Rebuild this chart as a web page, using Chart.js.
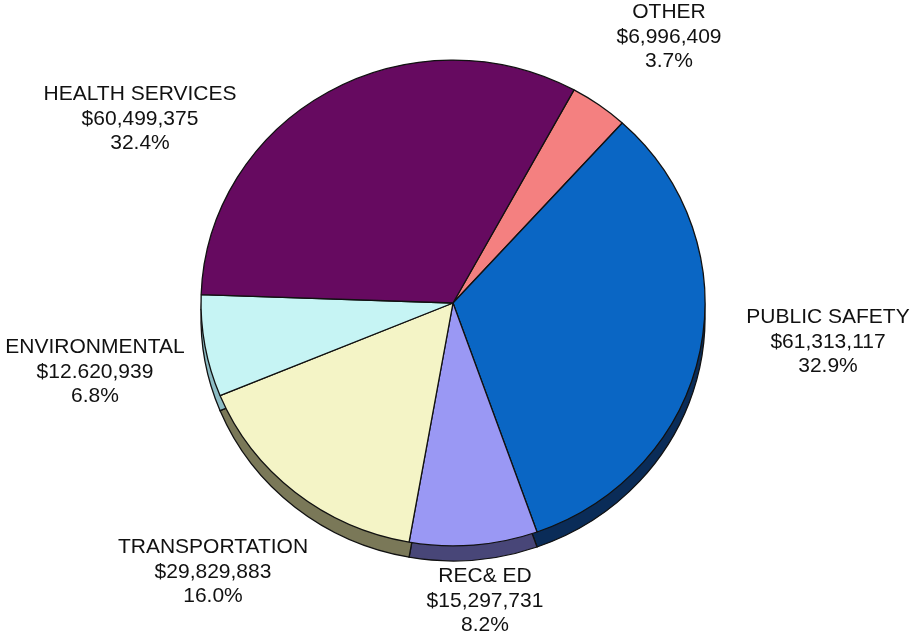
<!DOCTYPE html>
<html>
<head>
<meta charset="utf-8">
<script src="https://cdn.jsdelivr.net/npm/chart.js@4.4.1/dist/chart.umd.min.js"></script>
<style>
    body { margin: 0; background: #fff; }
    #budgetChart { display: block; }
</style>
</head>
<body>
<canvas id="budgetChart" width="911" height="640"></canvas>
<script>
// Budget by department
const categories = ['OTHER', 'PUBLIC SAFETY', 'REC& ED', 'TRANSPORTATION', 'ENVIRONMENTAL', 'HEALTH SERVICES'];
const amounts = [6996409, 61313117, 15297731, 29829883, 12620939, 60499375];
const amountLabels = ['$6,996,409', '$61,313,117', '$15,297,731', '$29,829,883', '$12.620,939', '$60,499,375'];
const percentLabels = ['3.7%', '32.9%', '8.2%', '16.0%', '6.8%', '32.4%'];

const topColors = ['#f48080', '#0a66c4', '#9a98f4', '#f4f4c6', '#c6f4f4', '#660a60'];
const sideColors = ['#8a4848', '#0a2c58', '#484678', '#7a7858', '#8cbcc4', '#3a0638'];

// label anchor offsets from the pie centre, px
const labelOffsets = [
    [216, -266], [375, 39], [32, 298], [-240, 269], [-358, 69], [-313, -184]
];

// squashes the pie slightly and draws the rim underneath it
const pieDepth = {
    id: 'pieDepth',
    beforeDatasetsDraw(chart, args, opts) {
        const ctx = chart.ctx;
        const meta = chart.getDatasetMeta(0);
        const cx = meta.data[0].x;
        const cy = meta.data[0].y;
        const d = opts.depth / opts.squash;

        ctx.save();
        ctx.translate(cx, cy);
        ctx.scale(1, opts.squash);
        ctx.translate(-cx, -cy);

        meta.data.forEach((arc, i) => {
            ctx.beginPath();
            ctx.moveTo(arc.x, arc.y + d);
            ctx.arc(arc.x, arc.y + d, arc.outerRadius, arc.startAngle, arc.endAngle);
            ctx.closePath();
            ctx.fillStyle = sideColors[i];
            ctx.fill();
            ctx.lineWidth = 1.3;
            ctx.strokeStyle = '#111';
            ctx.stroke();
        });
    },
    afterDatasetsDraw(chart) {
        chart.ctx.restore();
    }
};

const sliceLabels = {
    id: 'sliceLabels',
    afterDraw(chart) {
        const ctx = chart.ctx;
        const meta = chart.getDatasetMeta(0);
        const cx = meta.data[0].x;
        const cy = meta.data[0].y;
        ctx.save();
        ctx.font = '21px "Liberation Sans", Arial, sans-serif';
        ctx.fillStyle = '#111';
        ctx.textAlign = 'center';
        ctx.textBaseline = 'middle';
        categories.forEach((name, i) => {
            const x = cx + labelOffsets[i][0];
            const y = cy + labelOffsets[i][1];
            ctx.fillText(name, x, y - 24.5);
            ctx.fillText(amountLabels[i], x, y);
            ctx.fillText(percentLabels[i], x, y + 24.5);
        });
        ctx.restore();
    }
};

new Chart(document.getElementById('budgetChart'), {
    type: 'pie',
    data: {
        labels: categories,
        datasets: [{
            data: amounts,
            backgroundColor: topColors,
            borderColor: '#111',
            borderWidth: 1.3,
            hoverOffset: 0
        }]
    },
    options: {
        responsive: false,
        animation: false,
        rotation: 28.7,
        radius: 252,
        events: [],
        layout: {
            padding: { left: 201, right: 206, top: 51, bottom: 85 }
        },
        plugins: {
            legend: { display: false },
            tooltip: { enabled: false },
            pieDepth: { depth: 15, squash: 0.964 }
        }
    },
    plugins: [pieDepth, sliceLabels]
});
</script>
</body>
</html>
